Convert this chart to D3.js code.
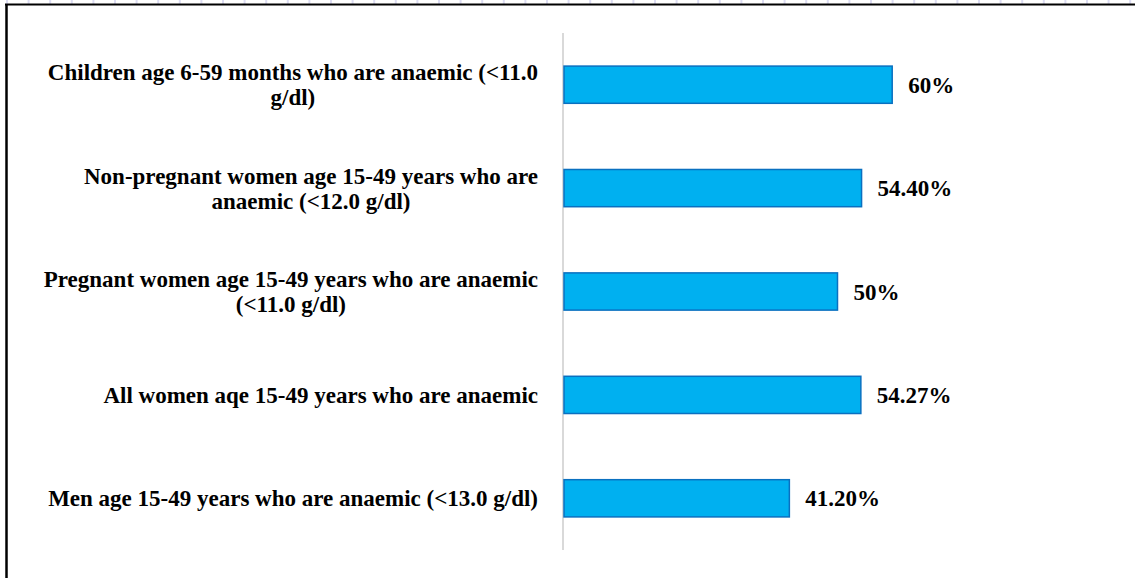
<!DOCTYPE html>
<html>
<head>
<meta charset="utf-8">
<script src="https://cdn.jsdelivr.net/npm/d3@7"></script>
<style>
  body { margin: 0; background: #fff; }
  svg { display: block; }
</style>
</head>
<body>
<div id="chart"></div>
<script>
// chart data
var categories = [
  ['Children age 6-59 months who are anaemic (<11.0', 'g/dl)'],
  ['Non-pregnant women age 15-49 years who are', 'anaemic (<12.0 g/dl)'],
  ['Pregnant women age 15-49 years who are anaemic', '(<11.0 g/dl)'],
  ['All women aqe 15-49 years who are anaemic'],
  ['Men age 15-49 years who are anaemic (<13.0 g/dl)']
]
var values = [60, 54.4, 50, 54.27, 41.2]
var valueLabels = ['60%', '54.40%', '50%', '54.27%', '41.20%']

var width = 1135
var height = 578

var svg = d3
  .select('#chart')
  .append('svg')
  .attr('width', width)
  .attr('height', height)

// faint marks along the very top edge
svg
  .append('g')
  .selectAll('rect')
  .data(d3.range(0, 53))
  .join('rect')
  .attr('x', function (d) { return 6 + d * 21.6 })
  .attr('y', 0)
  .attr('width', 2)
  .attr('height', 4)
  .attr('fill', '#dcdcf2')

// frame
svg.append('line')
  .attr('x1', 5).attr('x2', width).attr('y1', 4.5).attr('y2', 4.5)
  .attr('stroke', '#000').attr('stroke-width', 2)
svg.append('line')
  .attr('x1', 6.5).attr('x2', 6.5).attr('y1', 4).attr('y2', height)
  .attr('stroke', '#000').attr('stroke-width', 2.5)

var x = d3.scaleLinear().domain([0, 100]).range([564, 1111])
var y = d3
  .scaleBand()
  .domain(d3.range(categories.length))
  .range([33, 550])
  .paddingInner(0.64)
  .paddingOuter(0.32)

// category axis line
svg.append('line')
  .attr('x1', 563).attr('x2', 563)
  .attr('y1', 33).attr('y2', 550)
  .attr('stroke', '#d9d9d9').attr('stroke-width', 2)

svg
  .append('g')
  .selectAll('rect')
  .data(values)
  .join('rect')
  .attr('x', x(0))
  .attr('y', function (d, i) { return y(i) })
  .attr('width', function (d) { return x(d) - x(0) })
  .attr('height', y.bandwidth())
  .attr('fill', '#00b0f0')
  .attr('stroke', '#0a70c0')
  .attr('stroke-width', 1.5)

svg
  .append('g')
  .attr('font-family', '"Liberation Serif", "Times New Roman", serif')
  .attr('font-weight', 'bold')
  .attr('font-size', 23)
  .selectAll('text')
  .data(values)
  .join('text')
  .attr('x', function (d) { return x(d) + 16 })
  .attr('y', function (d, i) { return y(i) + y.bandwidth() / 2 })
  .attr('dy', '0.35em')
  .attr('fill', '#000')
  .text(function (d, i) { return valueLabels[i] })

// category labels, wrapped lines centred inside a right-aligned block
var labelRight = 538
var lineH = 25
var lab = svg
  .append('g')
  .attr('font-family', '"Liberation Serif", "Times New Roman", serif')
  .attr('font-weight', 'bold')
  .attr('font-size', 23)
  .attr('fill', '#000')

categories.forEach(function (lines, i) {
  var g = lab.append('g')
  var cy = y(i) + y.bandwidth() / 2
  var texts = lines.map(function (s, j) {
    return g
      .append('text')
      .attr('y', cy + (j - (lines.length - 1) / 2) * lineH)
      .attr('dy', '0.35em')
      .attr('text-anchor', 'middle')
      .text(s)
  })
  var maxW = d3.max(texts, function (t) { return t.node().getComputedTextLength() })
  texts.forEach(function (t) { t.attr('x', labelRight - maxW / 2) })
})
</script>
</body>
</html>
